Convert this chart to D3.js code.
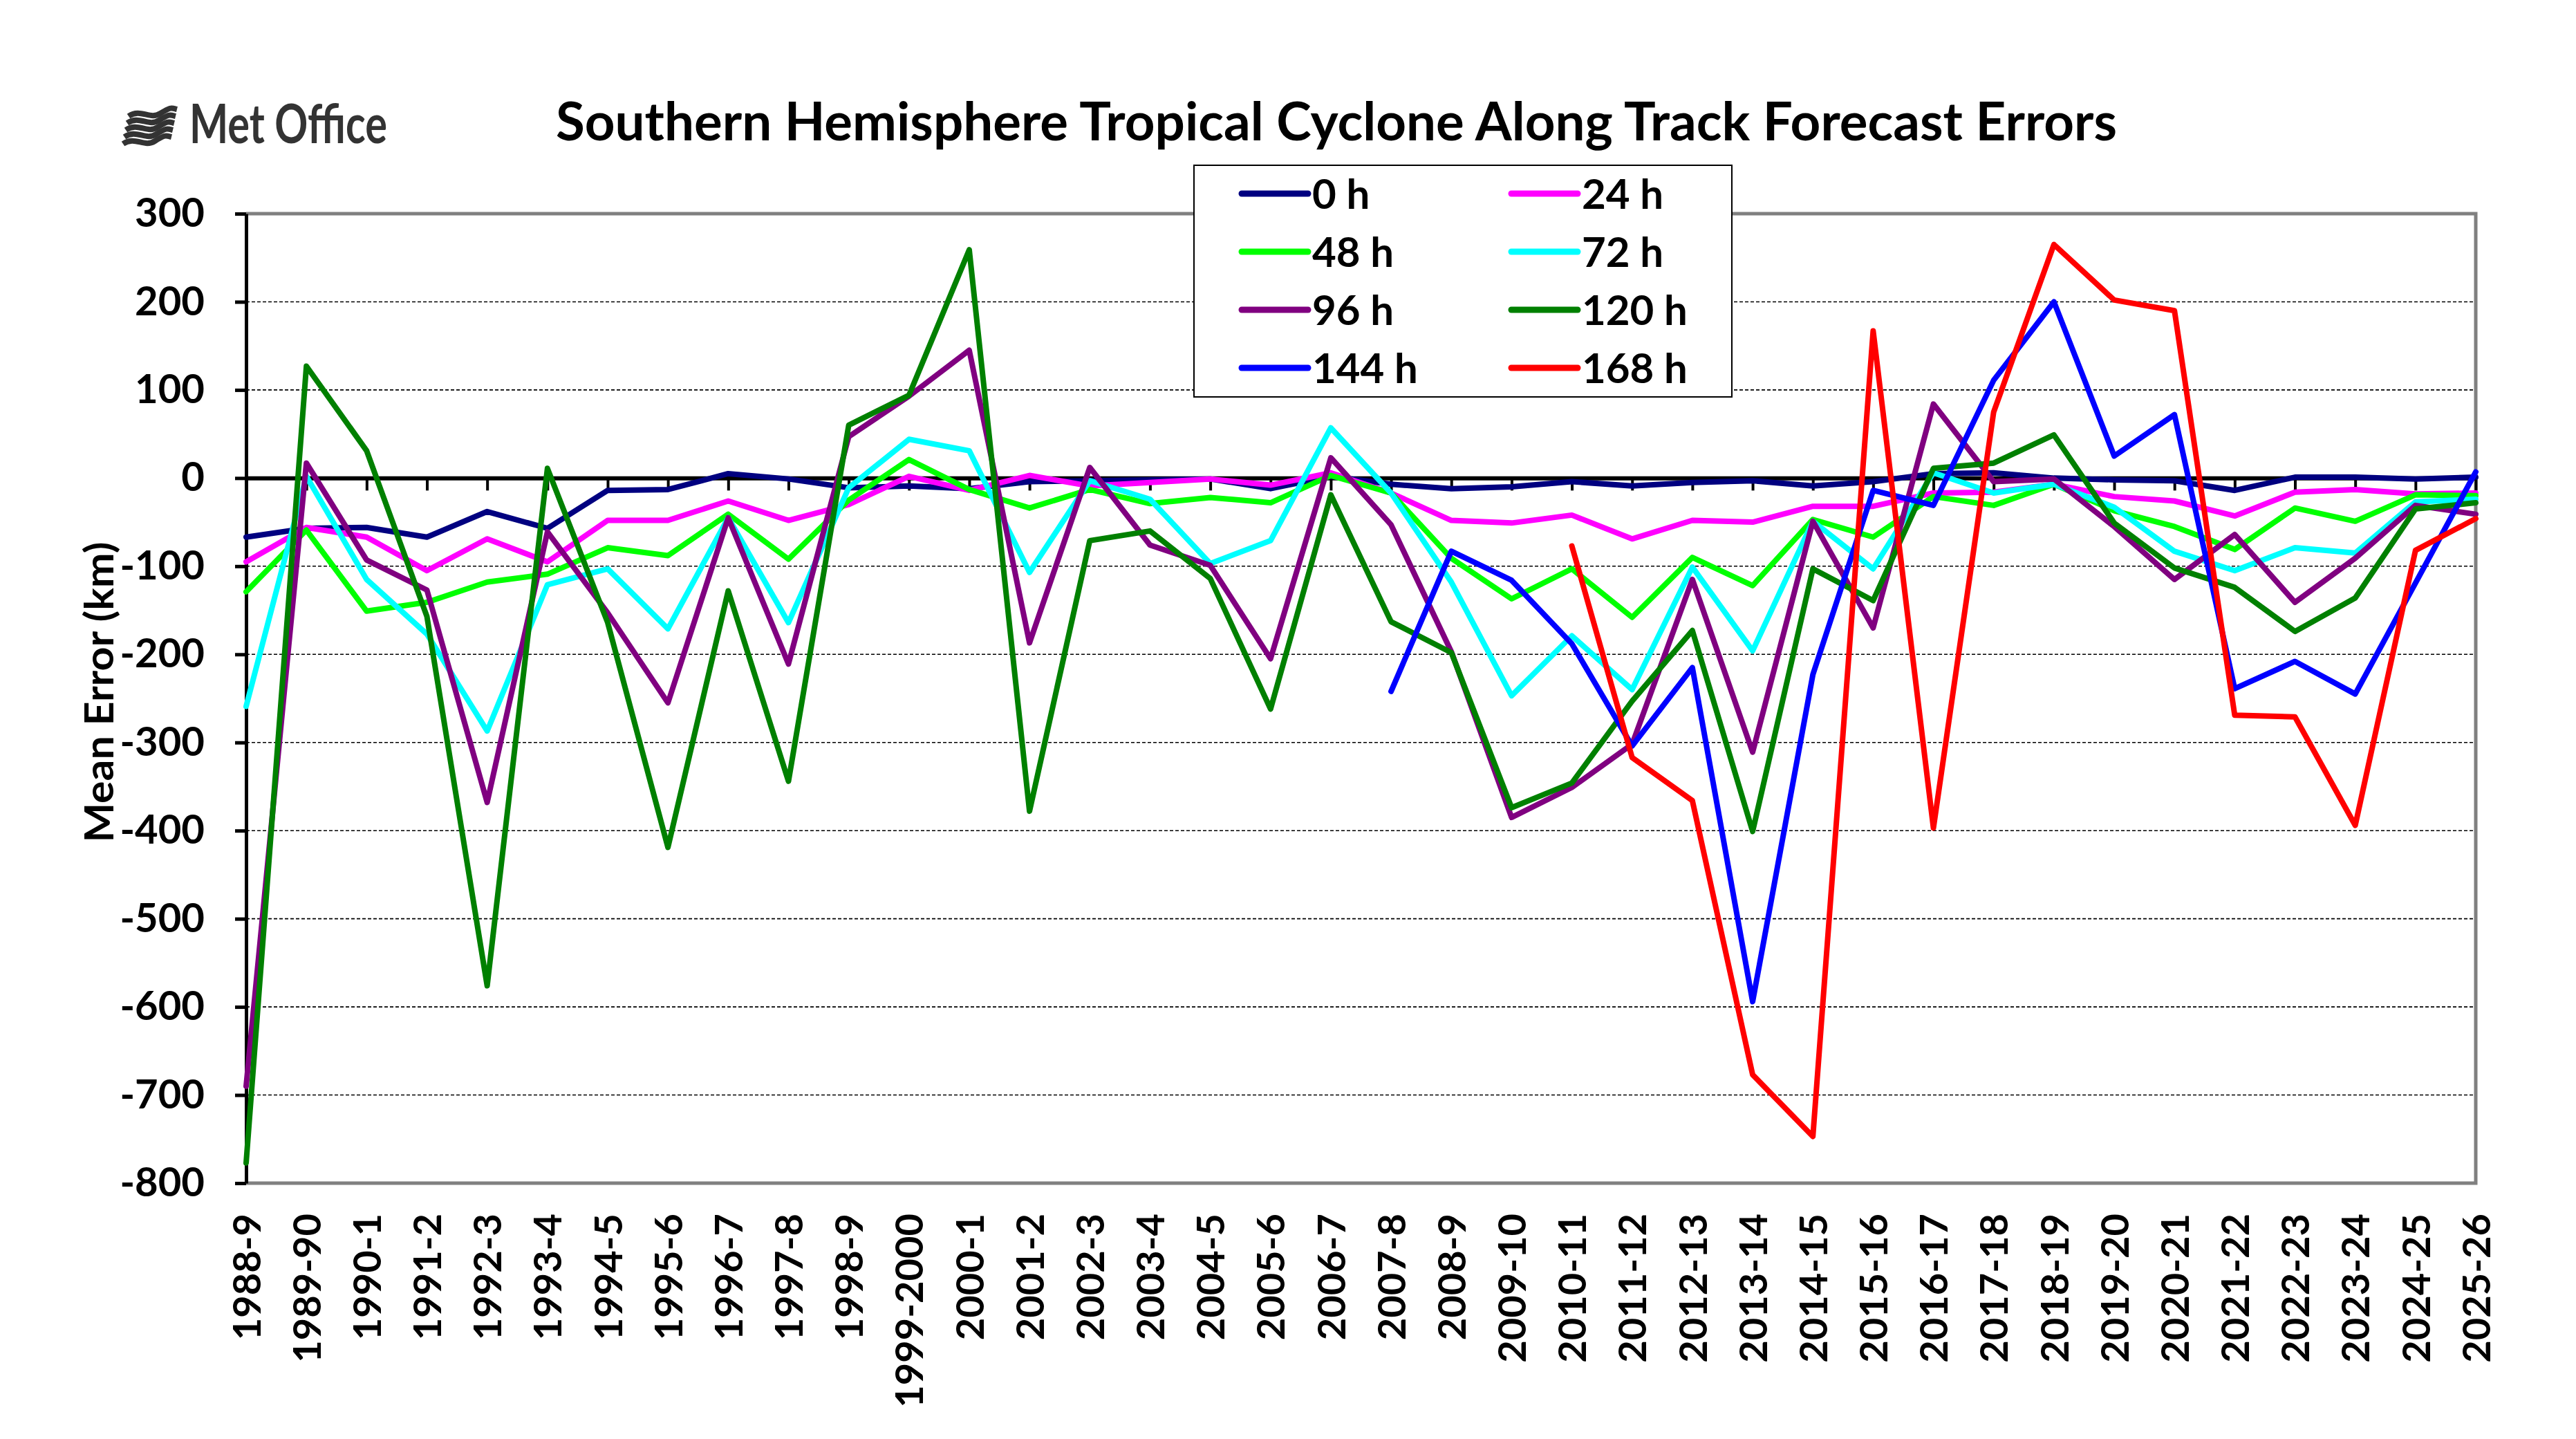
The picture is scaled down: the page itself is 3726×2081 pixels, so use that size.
<!DOCTYPE html>
<html>
<head>
<meta charset="utf-8">
<script src="https://cdnjs.cloudflare.com/ajax/libs/d3/7.8.5/d3.min.js"></script>
<style>
body { margin: 0; background: #fff; }
svg { display: block; font-family: Lato, "Open Sans", sans-serif; font-weight: bold; }
</style>
</head>
<body>
<svg id="chart" width="3726" height="2081"></svg>
<script>
// seasons along the x axis
var seasons = ["1988-9","1989-90","1990-1","1991-2","1992-3","1993-4","1994-5","1995-6","1996-7","1997-8",
  "1998-9","1999-2000","2000-1","2001-2","2002-3","2003-4","2004-5","2005-6","2006-7","2007-8",
  "2008-9","2009-10","2010-11","2011-12","2012-13","2013-14","2014-15","2015-16","2016-17","2017-18",
  "2018-19","2019-20","2020-21","2021-22","2022-23","2023-24","2024-25","2025-26"];

// mean along track error (km) per lead time
var h0 = [-67,-57,-56,-67,-38,-57,-14,-13,5,-1,-11,-9,-12,-4,-3,-2,-1,-12,2,-7,-12,-10,-4,-9,-5,-3,-9,-4,5,6,0,-2,-3,-14,1,1,-1,1];
var h24 = [-95,-56,-67,-105,-69,-95,-48,-48,-26,-48,-30,2,-14,3,-9,-5,-1,-8,6,-17,-48,-51,-42,-69,-48,-50,-32,-32,-17,-16,-7,-21,-26,-43,-16,-13,-18,-17];
var h48 = [-129,-59,-151,-141,-118,-109,-79,-88,-41,-92,-25,21,-13,-34,-13,-29,-22,-28,3,-17,-91,-137,-103,-158,-90,-122,-47,-67,-21,-31,-7,-37,-55,-81,-34,-49,-19,-20];
var h72 = [-259,2,-115,-177,-287,-121,-103,-171,-45,-164,-11,44,31,-107,-3,-24,-97,-71,57,-17,-118,-247,-179,-240,-101,-196,-49,-103,6,-17,-7,-33,-83,-105,-79,-85,-27,-24];
var h96 = [-690,17,-93,-127,-368,-61,-153,-255,-45,-211,47,93,145,-187,12,-76,-99,-205,23,-53,-197,-385,-351,-302,-115,-311,-49,-170,84,-4,-1,-55,-115,-64,-141,-91,-31,-41];
var h120 = [-777,127,31,-157,-576,11,-164,-419,-128,-344,60,94,259,-378,-71,-60,-114,-262,-19,-163,-198,-374,-346,-253,-173,-401,-103,-139,11,17,49,-51,-102,-124,-174,-136,-35,-28];
var h144 = [null,null,null,null,null,null,null,null,null,null,null,null,null,null,null,null,null,null,null,
  -242,-83,-116,-188,-304,-215,-594,-223,-14,-31,111,200,25,72,-239,-208,-245,-119,7];
var h168 = [null,null,null,null,null,null,null,null,null,null,null,null,null,null,null,null,null,null,null,null,null,null,
  -77,-317,-366,-677,-747,167,-397,75,265,202,190,-269,-271,-394,-82,-46];

var yTicks = [300,200,100,0,-100,-200,-300,-400,-500,-600,-700,-800];
var seriesNames = ["0 h","24 h","48 h","72 h","96 h","120 h","144 h","168 h"];
var seriesData = [h0,h24,h48,h72,h96,h120,h144,h168];

var colors = ["#000080","#ff00ff","#00ff00","#00ffff","#800080","#008000","#0000ff","#ff0000"];

var svg = d3.select("#chart");
svg.append("rect").attr("width",3726).attr("height",2081).attr("fill","#fff");

// plot area edges (not "top": that name is taken by window.top)
var plotL = 356, plotR = 3581, plotT = 309, plotB = 1711;

var x = d3.scalePoint().domain(seasons).range([plotL, plotR]);
var y = d3.scaleLinear().domain([-800, 300]).range([plotB, plotT]);

// dotted grid lines
svg.append("g")
  .selectAll("line")
  .data(yTicks.filter(function(v) { return v != 0 && v != 300 && v != -800; }))
  .enter()
  .append("line")
  .attr("x1", plotL).attr("x2", plotR)
  .attr("y1", function(d) { return y(d); })
  .attr("y2", function(d) { return y(d); })
  .attr("stroke", "#000")
  .attr("stroke-width", 1.6)
  .attr("stroke-dasharray", "5,3");

// grey frame: top, right, bottom
svg.append("path")
  .attr("d", "M" + plotL + "," + plotT + "H" + plotR + "V" + plotB + "H" + plotL)
  .attr("fill", "none")
  .attr("stroke", "#808080")
  .attr("stroke-width", 5);

// y axis (plain hyphen for negatives, like the original)
var yAxis = svg.append("g")
  .attr("transform", "translate(" + plotL + ",0)")
  .call(d3.axisLeft(y).tickValues(yTicks).tickSize(16).tickSizeOuter(0).tickPadding(44)
    .tickFormat(function(d) { return String(d); }));
yAxis.select(".domain").attr("stroke", "#000").attr("stroke-width", 5);
yAxis.selectAll(".tick line").attr("stroke", "#000").attr("stroke-width", 5);
yAxis.selectAll("text")
  .attr("font-size", 58)
  .attr("font-family", "Lato, sans-serif")
  .attr("font-weight", "bold")
  .attr("fill", "#000");

// zero line with category ticks
var zeroAxis = svg.append("g")
  .attr("transform", "translate(0," + y(0) + ")")
  .call(d3.axisBottom(x).tickSize(18).tickSizeOuter(0).tickFormat(""));
zeroAxis.select(".domain").attr("stroke", "#000").attr("stroke-width", 6);
zeroAxis.selectAll(".tick line").attr("stroke", "#000").attr("stroke-width", 4);

// season labels, rotated
var xAxis = svg.append("g")
  .attr("transform", "translate(0," + plotB + ")")
  .call(d3.axisBottom(x).tickSize(0));
xAxis.select(".domain").remove();
xAxis.selectAll("text")
  .attr("font-size", 56)
  .attr("font-family", "Lato, sans-serif")
  .attr("font-weight", "bold")
  .attr("fill", "#000")
  .attr("x", 0).attr("y", 0)
  .attr("dy", "0.36em")
  .attr("text-anchor", "end")
  .attr("transform", "translate(0,44) rotate(-90)");

// series lines
var line = d3.line()
  .defined(function(d) { return d != null; })
  .x(function(d, i) { return x(seasons[i]); })
  .y(function(d) { return y(d); });

svg.append("g")
  .selectAll("path")
  .data(seriesData)
  .enter()
  .append("path")
  .attr("d", line)
  .attr("fill", "none")
  .attr("stroke", function(d, i) { return colors[i]; })
  .attr("stroke-width", 8)
  .attr("stroke-linejoin", "round")
  .attr("stroke-linecap", "round");

// legend
var legend = svg.append("g");
legend.append("rect")
  .attr("x", 1727).attr("y", 239)
  .attr("width", 778).attr("height", 335)
  .attr("fill", "#fff")
  .attr("stroke", "#000")
  .attr("stroke-width", 2);

var items = legend.selectAll("g.item")
  .data(seriesNames)
  .enter()
  .append("g")
  .attr("class", "item")
  .attr("transform", function(d, i) {
    return "translate(" + (i % 2 == 0 ? 1796 : 2186) + "," + (280 + Math.floor(i / 2) * 84) + ")";
  });
items.append("line")
  .attr("x1", 0).attr("x2", 96)
  .attr("stroke", function(d, i) { return colors[i]; })
  .attr("stroke-width", 9)
  .attr("stroke-linecap", "round");
items.append("text")
  .attr("x", 102)
  .attr("dy", "0.36em")
  .attr("font-size", 60)
  .text(function(d) { return d; });

// title
svg.append("text")
  .attr("x", 804).attr("y", 203)
  .attr("font-size", 76)
  .attr("textLength", 2258)
  .attr("lengthAdjust", "spacingAndGlyphs")
  .text("Southern Hemisphere Tropical Cyclone Along Track Forecast Errors");

// y axis title
svg.append("text")
  .attr("transform", "translate(143,1001) rotate(-90)")
  .attr("text-anchor", "middle")
  .attr("dy", "0.36em")
  .attr("font-size", 58)
  .attr("textLength", 435)
  .attr("lengthAdjust", "spacingAndGlyphs")
  .text("Mean Error (km)");

// Met Office logo
var logo = svg.append("g").attr("fill", "none").attr("stroke", "#333").attr("stroke-width", 8);
[0, 1, 2, 3, 4].forEach(function(k) {
  var x0 = 186 - k * 2, y0 = 162 + k * 10;
  logo.append("path")
    .attr("d", "M" + x0 + "," + (y0 + 6) + " C" + (x0 + 18) + "," + (y0 - 6) + " " + (x0 + 30) + "," + (y0 + 12) + " " + (x0 + 46) + "," + (y0 + 2)
      + " S" + (x0 + 62) + "," + (y0 - 6) + " " + (x0 + 70) + "," + (y0 - 4));
});
svg.append("text")
  .attr("x", 274).attr("y", 207)
  .attr("font-size", 78)
  .attr("fill", "#333")
  .attr("textLength", 286)
  .attr("lengthAdjust", "spacingAndGlyphs")
  .text("Met Office");
</script>
</body>
</html>
